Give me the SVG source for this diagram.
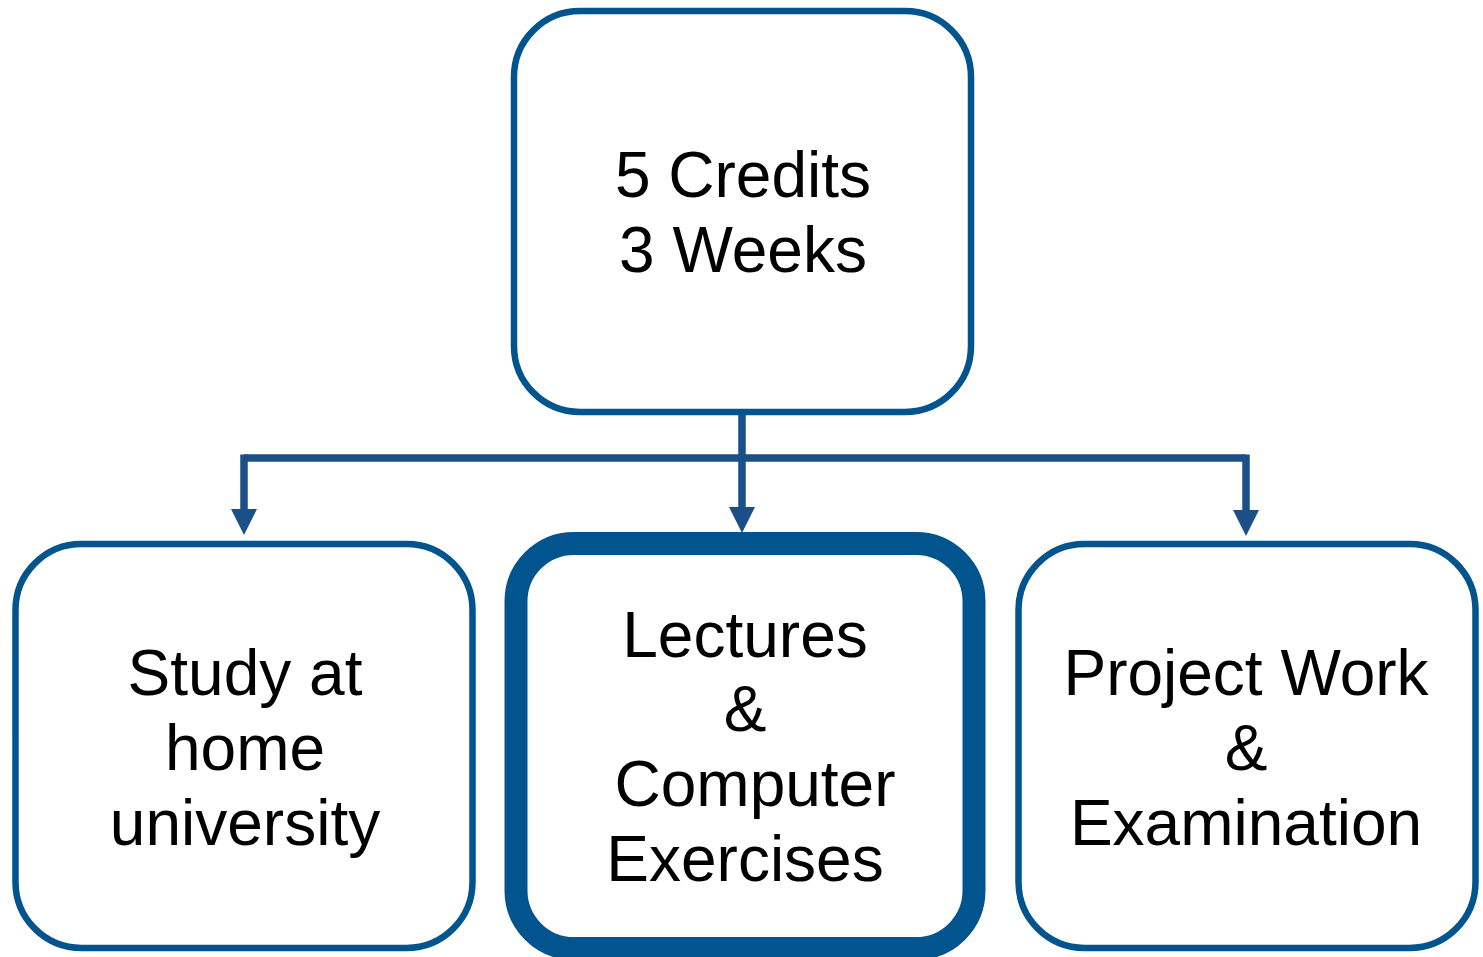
<svg xmlns="http://www.w3.org/2000/svg" width="1483" height="957" viewBox="0 0 1483 957">
<style>
.box{fill:#fff;stroke:#02548f;stroke-width:6.5}
.thick{fill:#fff;stroke:#02548f;stroke-width:23}
.lbl{font-family:"Liberation Sans",Arial,sans-serif;font-size:64px;fill:#000;text-anchor:middle}
.con{fill:none;stroke:#1a4f87;stroke-width:7.5}
.arr{marker-end:url(#ah)}
</style>
<defs>
<marker id="ah" markerUnits="userSpaceOnUse" markerWidth="26" markerHeight="26" refX="0" refY="13" orient="auto" viewBox="0 0 26 26">
<path d="M0,0 L26,13 L0,26 Z" fill="#1a4f87"/>
</marker>
</defs>
<g id="connectors">
<path class="con" d="M742,415 V458"/>
<path class="con" d="M244,458 H1246"/>
<path class="con arr" d="M244,454.5 V509"/>
<path class="con arr" d="M742,458 V507"/>
<path class="con arr" d="M1246,454.5 V510"/>
</g>
<g id="top">
<rect class="box" x="514" y="11" width="457" height="401" rx="66"/>
<text class="lbl" x="743" y="197">5 Credits</text>
<text class="lbl" x="743" y="272">3 Weeks</text>
</g>
<g id="study">
<rect class="box" x="15.5" y="544" width="457" height="404" rx="66"/>
<text class="lbl" x="245" y="695">Study at</text>
<text class="lbl" x="245" y="770">home</text>
<text class="lbl" x="245" y="845">university</text>
</g>
<g id="lectures">
<rect class="thick" x="516" y="543.5" width="458" height="405" rx="58"/>
<text class="lbl" x="745" y="657">Lectures</text>
<text class="lbl" x="745" y="731">&amp;</text>
<text class="lbl" x="755" y="806">Computer</text>
<text class="lbl" x="745" y="881">Exercises</text>
</g>
<g id="project">
<rect class="box" x="1018.5" y="544" width="457" height="404" rx="66"/>
<text class="lbl" x="1246" y="695">Project Work</text>
<text class="lbl" x="1246" y="770">&amp;</text>
<text class="lbl" x="1246" y="845">Examination</text>
</g>
</svg>
